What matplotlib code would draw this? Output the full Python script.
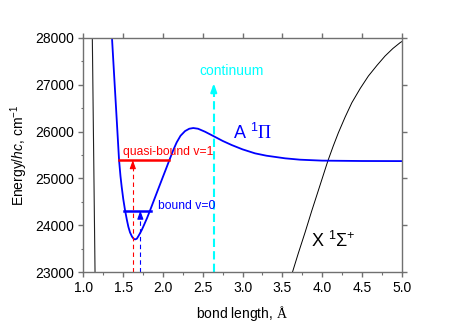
import matplotlib
matplotlib.use("Agg")
import matplotlib.pyplot as plt
from matplotlib.ticker import MultipleLocator

plt.rcParams['font.family'] = ['Liberation Sans', 'DejaVu Sans']
plt.rcParams['mathtext.fontset'] = 'custom'
plt.rcParams['mathtext.rm'] = 'Liberation Serif'
plt.rcParams['mathtext.sf'] = 'Liberation Sans'
plt.rcParams['mathtext.it'] = 'Liberation Sans:italic'

# A 1Pi state
a_r = [1.358, 1.39, 1.418, 1.447, 1.465, 1.48, 1.50, 1.522, 1.545, 1.564, 1.585, 1.61,
       1.63, 1.648, 1.67, 1.69, 1.71, 1.732, 1.76, 1.80, 1.836, 1.88, 1.941, 2.00,
       2.04, 2.08, 2.13, 2.172, 2.22, 2.277, 2.33, 2.38, 2.44, 2.528, 2.633, 2.75,
       2.864, 3.0, 3.157, 3.30, 3.535, 3.723, 4.0, 4.5, 5.0]
a_E = [28000, 27060, 26245, 25392, 25050, 24823, 24560, 24326, 24120, 23970, 23850, 23760,
       23715, 23701, 23715, 23770, 23830, 23900, 24005, 24160, 24315, 24510, 24780, 25040,
       25215, 25392, 25610, 25770, 25910, 26010, 26060, 26075, 26060, 25996, 25904, 25800,
       25712, 25620, 25535, 25485, 25429, 25400, 25380, 25372, 25370]

# X 1Sigma+ state
x_r = [3.627, 3.70, 3.786, 3.87, 3.954, 4.072, 4.14, 4.205, 4.29, 4.374, 4.48,
       4.582, 4.69, 4.792, 4.89, 4.98, 5.0]
x_E = [23000, 23400, 23850, 24310, 24750, 25371, 25690, 25975, 26310, 26614, 26920,
       27183, 27410, 27610, 27770, 27893, 27915]

# repulsive wall on the left
w_r = [1.111, 1.145]
w_E = [28000, 23000]

# vibrational levels: (r_left, r_right, energy)
v1 = (1.447, 2.08, 25392)
v0 = (1.515, 1.845, 24315)

# excitation arrows: (r, energy reached)
arr_v1 = (1.62, 25392)
arr_v0 = (1.715, 24315)
arr_cont = (2.638, 27030)

fig = plt.figure(figsize=(4.67, 3.27), dpi=100)
ax = fig.add_axes([0.1788, 0.1673, 0.6812, 0.7174])

ax.plot(w_r, w_E, color='#222222', lw=0.8)
ax.plot(x_r, x_E, color='black', lw=0.7)
ax.plot(a_r, a_E, color='#0000ff', lw=1.3)

ax.plot([v1[0], v1[1]], [v1[2], v1[2]], color='#ff0000', lw=1.8)
ax.plot([v0[0], v0[1]], [v0[2], v0[2]], color='#0000ff', lw=1.8)

def dashed_arrow(r, E, color, lw, dashes, head):
    ax.plot([r, r], [23000, E - head], color=color, lw=lw, dashes=dashes)
    ax.annotate('', xy=(r, E), xytext=(r, E - head),
                arrowprops=dict(arrowstyle='-|>,head_length=0.5,head_width=0.18',
                                color=color, lw=lw, shrinkA=0, shrinkB=0))

dashed_arrow(arr_v1[0], arr_v1[1], '#ff0000', 0.8, (4, 3), 150)
dashed_arrow(arr_v0[0], arr_v0[1], '#0000ff', 0.8, (4, 3), 150)
dashed_arrow(arr_cont[0], arr_cont[1], '#00ffff', 1.5, (4, 2), 150)

ax.text(2.46, 27290, 'continuum', color='#00ffff', fontsize=10, ha='left', va='center')
ax.text(1.50, 25560, 'quasi-bound v=1', color='#ff0000', fontsize=8.7, ha='left', va='center')
ax.text(1.933, 24411, 'bound v=0', color='#0000ff', fontsize=8.7, ha='left', va='center')
ax.text(2.88, 25962, r'$\mathsf{A}\ ^{\mathsf{1}}\Pi$', color='#0000ff', fontsize=13,
        ha='left', va='center')
ax.text(3.862, 23665, r'$\mathsf{X}\ ^{\mathsf{1}}\mathsf{\Sigma}^{\mathsf{+}}$', color='black',
        fontsize=13, ha='left', va='center')

ax.set_xlim(1.0, 5.0)
ax.set_ylim(23000, 28000)
ax.xaxis.set_major_locator(MultipleLocator(0.5))
ax.xaxis.set_minor_locator(MultipleLocator(0.25))
ax.yaxis.set_major_locator(MultipleLocator(1000))
ax.yaxis.set_minor_locator(MultipleLocator(500))
ax.xaxis.set_major_formatter(plt.FuncFormatter(lambda v, p: f'{v:.1f}'))

for s in ax.spines.values():
    s.set_color('#707070')
    s.set_linewidth(1.0)
ax.tick_params(which='both', direction='out', color='#707070', labelsize=10,
               top=True, right=True, labeltop=False, labelright=False)
ax.tick_params(which='major', length=3.6, width=1.0, pad=3)
ax.tick_params(which='minor', length=1.8, width=0.8, top=False, right=False)

ax.set_xlabel(r'bond length, $\mathrm{\AA}$', fontsize=10, labelpad=6)
ax.set_ylabel(r'Energy/$hc$, cm$^{\mathsf{-1}}$', fontsize=10, labelpad=4)

fig.savefig('out.png', dpi=100)
